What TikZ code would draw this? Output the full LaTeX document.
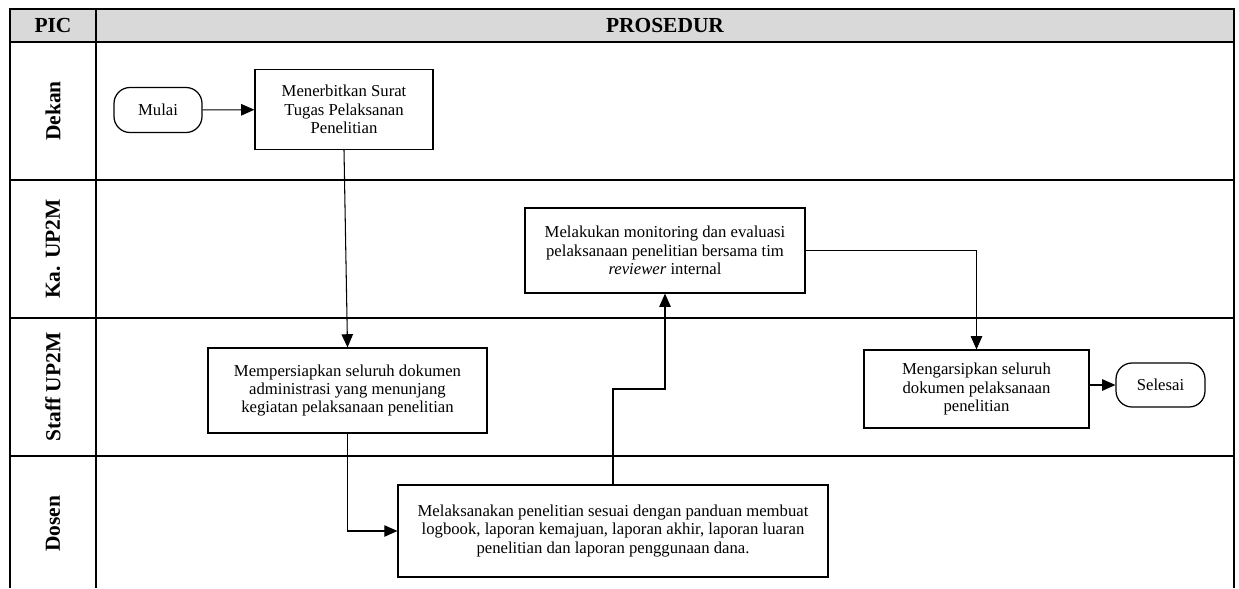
\documentclass[tikz,border=0pt]{standalone}
\usepackage{fontspec}
\setmainfont{Liberation Serif}
\usetikzlibrary{arrows.meta,calc}
\definecolor{abuhead}{HTML}{D9D9D9}

\begin{document}
\begin{tikzpicture}[x=0.02cm, y=-0.02cm, every node/.style={font=\fontsize{9.5}{10.4}\selectfont},
    proses/.style={draw, line width=0.7pt, align=center, inner sep=2pt},
    terminal/.style={draw, line width=0.7pt, rounded corners=0.32cm, align=center},
    judul/.style={font=\fontsize{12.2}{14}\selectfont\bfseries},
    panah/.style={-{Triangle[length=7.5pt,width=6.5pt]}, line width=0.6pt}]
    \useasboundingbox (0,0) rectangle (1239,588);
    %%%%%%%%%%%%%%% Header row
    \fill[abuhead] (10,9) rectangle (1234,42);
    \node[judul] (pic) at (53,25.5) {PIC};
    \node[judul] (prosedur) at (665,25.5) {PROSEDUR};
    %%%%%%%%%%%%%%% Frame and lanes
    \draw[line width=0.8pt] (10,588) -- (10,9) -- (1234,9) -- (1234,588);
    \draw[line width=0.8pt] (96,9) -- (96,588);
    \foreach \y in {42,180,318,456} {
        \draw[line width=0.8pt] (10,\y) -- (1234,\y);
    }
    \foreach \y/\nama [count=\i] in {111/Dekan, 249/Ka. UP2M, 387/Staff UP2M, 524/Dosen} {
        \node[judul, rotate=90] (lajur\i) at (53,\y) {\nama};
    }
    %%%%%%%%%%%%%%% Dekan
    \node[terminal, minimum width=1.76cm, minimum height=0.9cm] (mulai) at (158,110) {Mulai};
    \node[proses, minimum width=3.56cm, minimum height=1.6cm] (terbit) at (344,109.5) {Menerbitkan Surat\\ Tugas Pelaksanan\\ Penelitian};
    %%%%%%%%%%%%%%% Ka. UP2M
    \node[proses, minimum width=5.6cm, minimum height=1.7cm] (monev) at (665,250.5) {Melakukan monitoring dan evaluasi\\ pelaksanaan penelitian bersama tim\\ \textit{reviewer} internal};
    %%%%%%%%%%%%%%% Staff UP2M
    \node[proses, minimum width=5.58cm, minimum height=1.7cm] (siap) at (347.5,390.5) {Mempersiapkan seluruh dokumen\\ administrasi yang menunjang\\ kegiatan pelaksanaan penelitian};
    \node[proses, minimum width=4.5cm, minimum height=1.56cm] (arsip) at (976.5,389) {Mengarsipkan seluruh\\ dokumen pelaksanaan\\ penelitian};
    \node[terminal, minimum width=1.78cm, minimum height=0.88cm] (selesai) at (1160.5,385) {Selesai};
    %%%%%%%%%%%%%%% Dosen
    \node[proses, minimum width=8.6cm, minimum height=1.84cm] (laksana) at (613,531) {Melaksanakan penelitian sesuai dengan panduan membuat\\ logbook, laporan kemajuan, laporan akhir, laporan luaran\\ penelitian dan laporan penggunaan dana.};
    %%%%%%%%%%%%%%% Arrows
    \draw[panah] (mulai) -- (terbit);
    \draw[panah] (terbit.south) -- (siap.north);
    \draw[panah] (siap.south) |- (laksana.west);
    \draw[panah] (laksana.north) |- ($(laksana.north)!0.5!(monev.south)$) -| (monev.south);
    \draw[panah] (monev.east) -| (arsip.north);
    \draw[panah] (arsip.east |- selesai.west) -- (selesai.west);
\end{tikzpicture}
\end{document}
